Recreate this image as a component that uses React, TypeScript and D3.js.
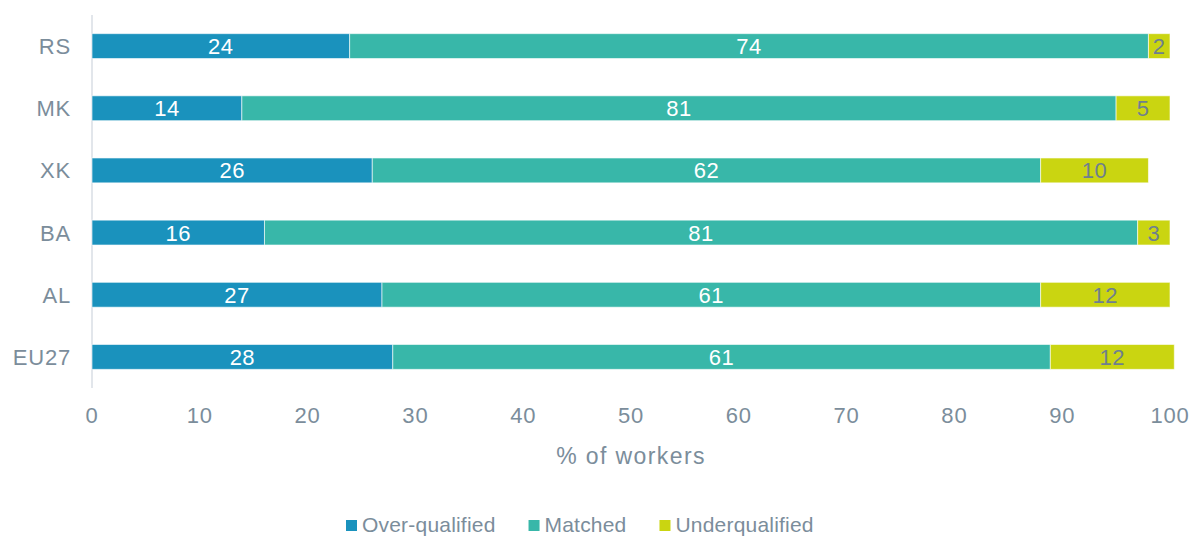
import * as d3 from "d3";
import React, { useRef, useEffect } from "react";

const countries = ["RS", "MK", "XK", "BA", "AL", "EU27"];
const overQualified = [23.9, 13.9, 26, 16, 26.9, 27.9];
const matched = [74.1, 81.1, 62, 81, 61.1, 61.0];
const underQualified = [2, 5, 10, 3, 12, 11.5];
const seriesNames = ["Over-qualified", "Matched", "Underqualified"];
const xTicks = [0, 10, 20, 30, 40, 50, 60, 70, 80, 90, 100];

const colors = ["#1a92bd", "#38b7a9", "#cad511"];
const labelColors = ["#ffffff", "#ffffff", "#6e7f8f"];
const textGrey = "#7b8d9b";
const font = "'Liberation Sans', Arial, sans-serif";

const App = () => {
  const svgRef = useRef<SVGSVGElement>(null);

  useEffect(() => {
    document.body.style.margin = "0";
    document.body.style.overflow = "hidden";

    const svg = d3.select(svgRef.current);
    svg.selectAll("*").remove();

    const margin = { top: 15, left: 92, right: 22, bottom: 150 };
    const width = 1192;
    const height = 538;

    const rows = countries.map((c, i) => ({
      country: c,
      vals: [overQualified[i], matched[i], underQualified[i]],
    }));

    const x = d3
      .scaleLinear()
      .domain([0, 100])
      .range([margin.left, width - margin.right]);

    const y = d3
      .scaleBand()
      .domain(countries)
      .range([margin.top, height - margin.bottom])
      .paddingInner(0.6)
      .paddingOuter(0.3);

    // vertical axis line
    svg
      .append("line")
      .attr("x1", x(0))
      .attr("x2", x(0))
      .attr("y1", margin.top)
      .attr("y2", height - margin.bottom)
      .attr("stroke", "#d8dee4")
      .attr("stroke-width", 1.5);

    // bars + value labels
    rows.forEach((r) => {
      let start = 0;
      r.vals.forEach((v, k) => {
        const x0 = x(start);
        const x1 = x(start + v);
        const yy = y(r.country)!;
        svg
          .append("rect")
          .attr("x", x0)
          .attr("y", yy)
          .attr("width", x1 - x0)
          .attr("height", y.bandwidth())
          .attr("fill", colors[k])
          .attr("stroke", "#ffffff")
          .attr("stroke-opacity", 0.6)
          .attr("stroke-width", 1);
        svg
          .append("text")
          .attr("x", (x0 + x1) / 2)
          .attr("y", yy + y.bandwidth() / 2)
          .attr("dy", "0.36em")
          .attr("text-anchor", "middle")
          .style("font-family", font)
          .style("font-size", "22px")
          .style("letter-spacing", "0.5px")
          .style("fill", labelColors[k])
          .text(Math.round(v));
        start += v;
      });
    });

    // category labels
    svg
      .selectAll(".cat")
      .data(countries)
      .enter()
      .append("text")
      .attr("x", x(0) - 21)
      .attr("y", (d) => y(d)! + y.bandwidth() / 2)
      .attr("dy", "0.36em")
      .attr("text-anchor", "end")
      .style("font-family", font)
      .style("font-size", "22px")
      .style("letter-spacing", "0.8px")
      .style("fill", textGrey)
      .text((d) => d);

    // x tick labels
    svg
      .selectAll(".tick-label")
      .data(xTicks)
      .enter()
      .append("text")
      .attr("x", (d) => x(d))
      .attr("y", 415)
      .attr("dy", "0.36em")
      .attr("text-anchor", "middle")
      .style("font-family", font)
      .style("font-size", "22px")
      .style("letter-spacing", "0.8px")
      .style("fill", textGrey)
      .text((d) => d);

    // axis title
    svg
      .append("text")
      .attr("x", (x(0) + x(100)) / 2)
      .attr("y", 456)
      .attr("dy", "0.36em")
      .attr("text-anchor", "middle")
      .style("font-family", font)
      .style("font-size", "23px")
      .style("letter-spacing", "1.4px")
      .style("fill", textGrey)
      .text("% of workers");

    // legend
    let lx = 346;
    seriesNames.forEach((name, k) => {
      svg
        .append("rect")
        .attr("x", lx)
        .attr("y", 520)
        .attr("width", 11)
        .attr("height", 11)
        .attr("fill", colors[k]);
      const t = svg
        .append("text")
        .attr("x", lx + 16)
        .attr("y", 524)
        .attr("dy", "0.36em")
        .style("font-family", font)
        .style("font-size", "21px")
        .style("letter-spacing", "0.2px")
        .style("fill", textGrey)
        .text(name);
      const w = (t.node() as SVGTextElement).getComputedTextLength();
      lx += 16 + w + 33;
    });
  }, []);

  return (
    <div>
      <svg ref={svgRef} width={1192} height={538} style={{ display: "block", background: "#fff" }} />
    </div>
  );
};

export default App;
